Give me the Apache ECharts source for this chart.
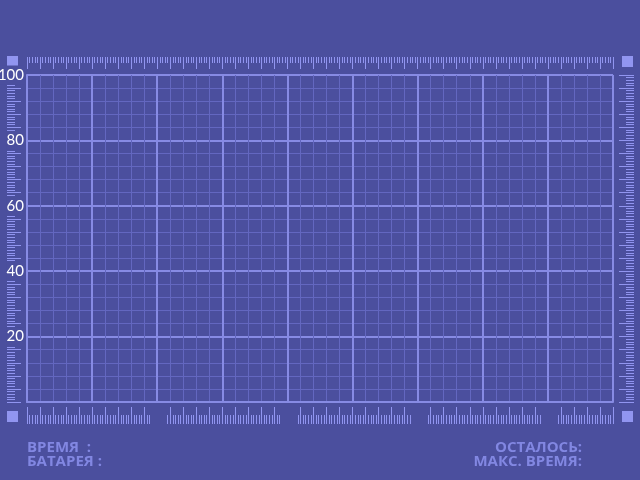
<!DOCTYPE html>
<html>
<head>
<meta charset="utf-8">
<title>Сетка</title>
<script src="https://cdn.jsdelivr.net/npm/echarts@6/dist/echarts.min.js"></script>
<style>
html, body { margin: 0; padding: 0; background: #4b4f9e; }
#chart { width: 640px; height: 480px; }
</style>
</head>
<body>
<div id="chart"></div>
<script>
// axis ranges
var xRange = [0, 45];
var xMajorStep = 5;
var yRange = [0, 100];
var yLabelStep = 20;
var yRulerStep = 4;
// bottom ruler pieces (in x units), gaps between them
var bottomSegments = [[0, 9.4], [10.8, 19.4], [20.8, 29.4], [30.8, 39.4], [40.8, 45]];
// captions under the chart
var leftNotes = ['ВРЕМЯ  :', 'БАТАРЕЯ :'];
var rightNotes = ['ОСТАЛОСЬ:', 'МАКС. ВРЕМЯ:'];

var bg = '#4b4f9e';
var major = '#878be4';
var minor = '#6367c0';
var tick = '#9195f0';
var noteColor = '#8287e2';

var bottomLong = [];
var bottomShort = [];
bottomSegments.forEach(function (s) {
    for (var i = Math.round(s[0] * 5); i <= Math.round(s[1] * 5); i++) {
        if (i % 5 === 0) bottomLong.push(i / 5);
        else bottomShort.push(i / 5);
    }
});

function ruler(extra) {
    var base = {
        min: extra.min,
        max: extra.max,
        interval: extra.interval,
        type: 'value',
        z: 1,
        axisLine: { show: false, onZero: false },
        axisLabel: { show: false },
        splitLine: { show: false },
        axisTick: { show: true, inside: true, length: extra.long, lineStyle: { color: tick, width: 1 } },
        minorTick: { show: true, splitNumber: 5, length: extra.short, lineStyle: { color: tick, width: 1 } }
    };
    for (var k in extra.opt) base[k] = extra.opt[k];
    return base;
}

function note(text, side, top) {
    var t = {
        top: top, padding: 0, text: text,
        textStyle: { color: noteColor, fontSize: 15, fontWeight: 'bold', fontFamily: 'Open Sans' }
    };
    if (side === 'left') t.left = 27;
    else t.right = 58;
    return t;
}

var chart = echarts.init(document.getElementById('chart'));

var option = {
    backgroundColor: bg,
    animation: false,
    grid: { left: 27, right: 27, top: 75, bottom: 78, outerBoundsMode: 'none' },
    title: [
        note(leftNotes[0], 'left', 440),
        note(leftNotes[1], 'left', 454),
        note(rightNotes[0], 'right', 440),
        note(rightNotes[1], 'right', 454)
    ],
    graphic: [
        { type: 'rect', left: 7, top: 56, shape: { width: 11, height: 11 }, style: { fill: tick } },
        { type: 'rect', right: 7, top: 56, shape: { width: 11, height: 11 }, style: { fill: tick } },
        { type: 'rect', left: 7, top: 411, shape: { width: 11, height: 11 }, style: { fill: tick } },
        { type: 'rect', right: 7, top: 411, shape: { width: 11, height: 11 }, style: { fill: tick } }
    ],
    xAxis: [
        {
            type: 'value', min: xRange[0], max: xRange[1], interval: xMajorStep, z: 5,
            axisLine: { show: true, onZero: false, lineStyle: { color: major, width: 2 } },
            axisTick: { show: false },
            axisLabel: { show: false },
            splitLine: { show: true, lineStyle: { color: major, width: 2 } },
            minorTick: { show: false, splitNumber: 5 },
            minorSplitLine: { show: true, lineStyle: { color: minor, width: 1 } }
        },
        // top ruler
        ruler({ min: xRange[0], max: xRange[1], interval: 1, long: 12, short: 6, opt: { position: 'top', offset: 18 } }),
        // bottom ruler, long ticks
        {
            type: 'value', min: xRange[0], max: xRange[1], position: 'bottom', offset: 22, z: 1,
            axisLine: { show: false, onZero: false }, axisLabel: { show: false }, splitLine: { show: false },
            axisTick: { show: true, inside: true, length: 17, customValues: bottomLong, lineStyle: { color: tick, width: 1 } }
        },
        // bottom ruler, short ticks
        {
            type: 'value', min: xRange[0], max: xRange[1], position: 'bottom', offset: 22, z: 1,
            axisLine: { show: false, onZero: false }, axisLabel: { show: false }, splitLine: { show: false },
            axisTick: { show: true, inside: true, length: 9, customValues: bottomShort, lineStyle: { color: tick, width: 1 } }
        }
    ],
    yAxis: [
        {
            type: 'value', min: yRange[0], max: yRange[1], interval: yLabelStep, z: 5,
            axisLine: { show: true, onZero: false, lineStyle: { color: major, width: 2 } },
            axisTick: { show: false },
            axisLabel: {
                show: true, showMinLabel: false, margin: 3,
                color: '#ffffff', fontSize: 15, fontFamily: 'Lato',
                backgroundColor: bg, padding: [2, 0, 2, 0]
            },
            splitLine: { show: true, lineStyle: { color: major, width: 2 } },
            minorTick: { show: false, splitNumber: 5 },
            minorSplitLine: { show: true, lineStyle: { color: minor, width: 1 } }
        },
        // left ruler
        ruler({ min: yRange[0], max: yRange[1], interval: yRulerStep, long: 14, short: 8, opt: { position: 'left', offset: 20 } }),
        // right ruler
        ruler({ min: yRange[0], max: yRange[1], interval: yRulerStep, long: 15, short: 8, opt: { position: 'right', offset: 21 } })
    ],
    series: [
        { type: 'line', xAxisIndex: 0, yAxisIndex: 0, data: [] }
    ]
};

chart.setOption(option);
</script>
</body>
</html>
